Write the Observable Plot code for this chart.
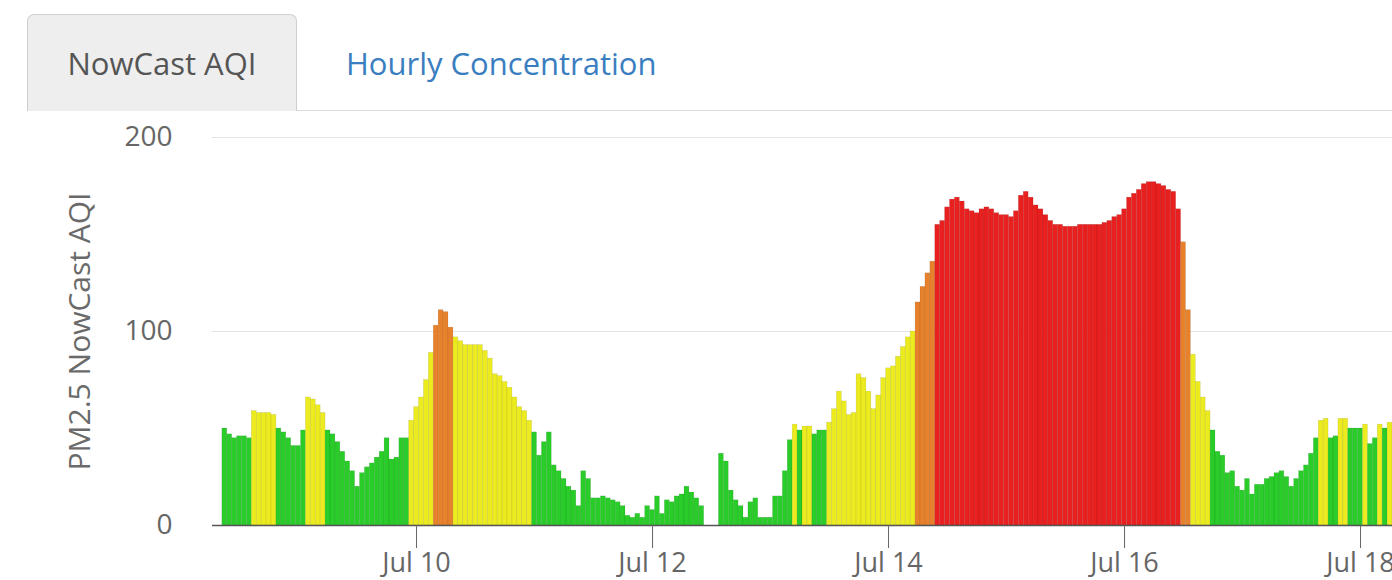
<!DOCTYPE html>
<html>
<head>
<meta charset="utf-8">
<script src="https://cdn.jsdelivr.net/npm/d3@7"></script>
<script src="https://cdn.jsdelivr.net/npm/@observablehq/plot@0.6"></script>
<style>
  html, body { margin: 0; padding: 0; background: #fff; }
  body { width: 1392px; height: 580px; overflow: hidden; position: relative; font-family: "Open Sans", sans-serif; }
  .tab-active { position: absolute; left: 27px; top: 14px; width: 270px; height: 97px; background: #eeeeee;
    border: 1px solid #cfcfcf; border-bottom: none; border-radius: 7px 7px 0 0; box-sizing: border-box;
    display: flex; align-items: center; justify-content: center; color: #555; font-size: 31px; }
  .tab-link { position: absolute; left: 346px; top: 14px; height: 97px; display: flex; align-items: center;
    color: #3a7ebf; font-size: 31px; }
  .tab-line { position: absolute; left: 297px; top: 110px; width: 1100px; height: 0; border-top: 1px solid #dcdcdc; }
  #chart { position: absolute; left: 0; top: 112px; }
</style>
</head>
<body>
<div class="tab-active">NowCast AQI</div>
<div class="tab-link">Hourly Concentration</div>
<div class="tab-line"></div>
<div id="chart"></div>
<script>
// ---- data ----
const firstHour = "2018-07-08T09:00:00Z"; // first hourly bar
const aqi = [
  50, 47, 45, 46, 46, 45, 59, 58, 58, 58,
  57, 50, 48, 45, 41, 41, 49, 66, 65, 62,
  58, 49, 47, 43, 38, 33, 28, 20, 27, 30,
  32, 35, 38, 45, 34, 35, 45, 45, 54, 61,
  66, 75, 89, 103, 111, 110, 102, 97, 95, 93,
  93, 93, 93, 90, 86, 78, 77, 74, 71, 66,
  61, 59, 54, 48, 36, 43, 48, 31, 28, 24,
  20, 18, 10, 28, 24, 14, 14, 15, 14, 13,
  12, 10, 5, 4, 6, 4, 10, 8, 15, 6,
  13, 12, 15, 16, 20, 17, 14, 10, null, null,
  null, 37, 33, 18, 13, 10, 4, 12, 14, 4,
  4, 4, 15, 15, 28, 44, 52, 49, 51, 51,
  47, 49, 49, 53, 60, 69, 64, 57, 58, 78,
  76, 69, 60, 67, 76, 81, 82, 87, 92, 97,
  100, 115, 123, 130, 136, 155, 157, 164, 168, 169,
  167, 163, 162, 161, 163, 164, 163, 161, 160, 160,
  159, 162, 170, 172, 169, 165, 163, 160, 157, 155,
  155, 154, 154, 154, 155, 155, 155, 155, 155, 156,
  157, 159, 160, 163, 169, 171, 173, 176, 177, 177,
  176, 175, 173, 172, 163, 146, 111, 88, 74, 66,
  59, 49, 38, 36, 27, 28, 20, 18, 24, 16,
  21, 21, 24, 25, 27, 28, 25, 20, 24, 28,
  31, 37, 45, 54, 55, 45, 46, 55, 55, 50,
  50, 50, 52, 42, 45, 52, 50, 53
];
const categoryBreaks = [50.5, 100.5, 150.5];
const categoryColors = ["#29cc29", "#ebeb1f", "#e8812b", "#e8201f"];
const xDomain = ["2018-07-08T06:30:00Z", "2018-07-18T06:30:00Z"];
const tickDates = ["2018-07-10", "2018-07-12", "2018-07-14", "2018-07-16", "2018-07-18"];
const tickLabels = ["Jul 10", "Jul 12", "Jul 14", "Jul 16", "Jul 18"];
const yTicks = [0, 100, 200];
const gridValues = [100, 200];
const yTitle = "PM2.5 NowCast AQI";

// ---- build table ----
const HOUR = 3600e3;
const t0 = +new Date(firstHour);
const rows = aqi.map((v, i) => ({t: new Date(t0 + i * HOUR), v}))
  .filter(d => d.v != null);
const ticks = tickDates.map(d => new Date(d + "T00:00:00Z"));
const labelOf = d => tickLabels[ticks.findIndex(t => +t === +d)];

const chart = Plot.plot({
  width: 1392,
  height: 468,
  marginLeft: 212,
  marginRight: 0,
  marginTop: 25,
  marginBottom: 55,
  style: {fontFamily: "'Open Sans', sans-serif", background: "transparent", color: "#666"},
  x: {type: "utc", domain: xDomain.map(d => new Date(d))},
  y: {domain: [0, 200]},
  color: {type: "threshold", domain: categoryBreaks, range: categoryColors},
  marks: [
    Plot.ruleY(gridValues, {stroke: "#e3e3e3", strokeWidth: 1.2}),
    Plot.rectY(rows, {
      x1: d => new Date(+d.t - HOUR / 2),
      x2: d => new Date(+d.t + HOUR / 2),
      y: "v",
      fill: "v",
      stroke: "#000",
      strokeOpacity: 0.12,
      strokeWidth: 0.6
    }),
    Plot.ruleY([0], {stroke: "#555", strokeWidth: 1.5}),
    Plot.axisX(ticks, {tickSize: 23, tickPadding: 4, fontSize: 27, tickFormat: labelOf, color: "#666", label: null}),
    Plot.axisY(yTicks, {tickSize: 0, tickPadding: 40, fontSize: 28, color: "#666", label: null}),
    Plot.text([yTitle], {frameAnchor: "left", textAnchor: "middle", lineAnchor: "middle", rotate: -90, dx: -132, fontSize: 30, fill: "#6a6a6a"})
  ]
});
document.getElementById("chart").appendChild(chart);
</script>
</body>
</html>
